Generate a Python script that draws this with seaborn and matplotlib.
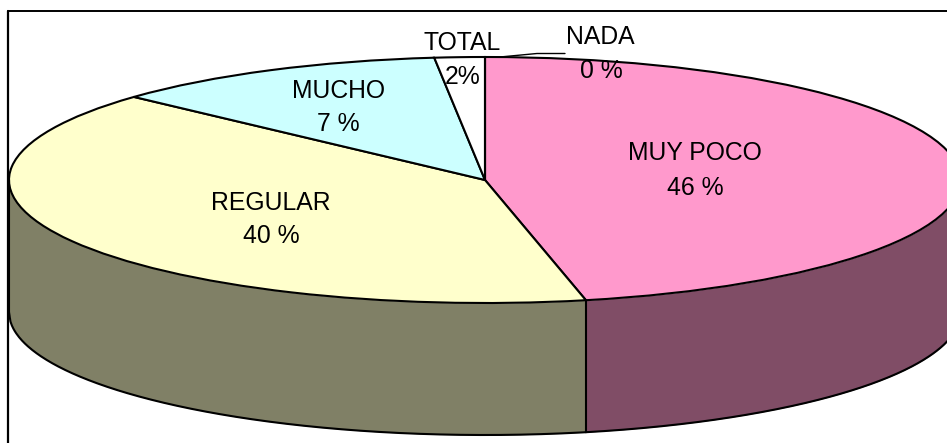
import matplotlib
matplotlib.use("Agg")
import matplotlib.pyplot as plt
import numpy as np
import seaborn as sns

# shares as measured on the drawn pie, the text labels say something a bit different
categories = ["MUY POCO", "REGULAR", "MUCHO", "TOTAL", "NADA"]
shares = [46.6, 40.2, 11.5, 1.7, 0.0]
pct_labels = ["46 %", "40 %", "7 %", "2%", "0 %"]
top_colors = ["#FF99CC", "#FFFFCC", "#CCFFFF", "#FFFFFF", "#FFFFFF"]
wall_colors = ["#804D66", "#808066"]

W, H = 947, 443
RX, RY = 476.0, 123.0      # pie radius in pixels
CX, CY = 485.0, 180.0      # pie centre in pixels
DEPTH = 132.0 / RY
EDGE = 1.5

sns.set_theme(style="white")
plt.rcParams["font.family"] = ["Liberation Sans", "DejaVu Sans"]

fig = plt.figure(figsize=(W / 100, H / 100), dpi=100, facecolor="white")
ax = fig.add_axes([0, 0, 1, 1])

# side wall, split where the first slice ends on the front edge
split = np.sin(np.radians(shares[0] * 3.6))
xs_right = np.linspace(split, 1, 200)
xs_left = np.linspace(-1, split, 400)
for xs, col in zip([xs_right, xs_left], wall_colors):
    top = -np.sqrt(1 - xs ** 2)
    ax.fill_between(xs, top, top - DEPTH, color=col, lw=0)
    ax.plot(xs, top - DEPTH, color="black", lw=EDGE)
for x0 in [-1, split, 1]:
    y0 = -np.sqrt(1 - x0 ** 2)
    ax.plot([x0, x0], [y0, y0 - DEPTH], color="black", lw=EDGE)

# top face
ax.pie(shares, colors=top_colors, startangle=90, counterclock=False,
       radius=1, center=(0, 0), frame=True,
       wedgeprops={"edgecolor": "black", "linewidth": EDGE})

# stretch the circle into the flattened ellipse
ax.set_aspect("auto")
ax.set_xlim(-CX / RX, (W - CX) / RX)
ax.set_ylim(-(H - CY) / RY, CY / RY)
ax.set_xticks([])
ax.set_yticks([])
for s in ax.spines.values():
    s.set_visible(False)


def px(x, y):
    return x / W, 1 - y / H


# frame, only left and top show up
fig.add_artist(plt.Line2D([px(8, 0)[0], px(8, 0)[0]], [px(8, 11)[1], 0], color="black", lw=1.6))
fig.add_artist(plt.Line2D([px(8, 0)[0], 1], [px(8, 11)[1], px(8, 11)[1]], color="black", lw=1.4))

# leader line for NADA
lead_x = [500, 537, 565]
lead_y = [57, 53.5, 53.5]
fig.add_artist(plt.Line2D([v / W for v in lead_x], [1 - v / H for v in lead_y], color="black", lw=1))

name_pos = [(695, 153), (271, 203), (338, 91), (462, 43), (600, 37)]
pct_pos = [(695, 188), (271, 236), (338, 124), (463, 77), (601, 71)]
for name, pct, p1, p2 in zip(categories, pct_labels, name_pos, pct_pos):
    fig.text(*px(*p1), name, ha="center", va="center", fontsize=17.8, color="black")
    fig.text(*px(*p2), pct, ha="center", va="center", fontsize=17.8, color="black")

fig.savefig("out.png", dpi=100)
